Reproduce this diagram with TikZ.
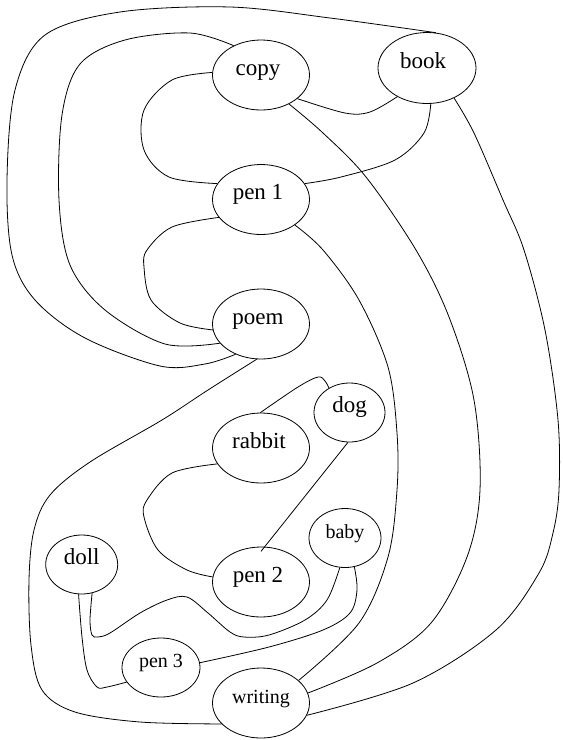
\documentclass[tikz,border=0pt]{standalone}
\usepackage{fontspec}
\setmainfont{Liberation Serif}
\usetikzlibrary{shapes.geometric}
\begin{document}
\begin{tikzpicture}[x=1pt,y=-1pt,
  vtx/.style={draw, ellipse, inner sep=0pt, line width=0.8pt,
    minimum width=97pt, minimum height=70pt,
    font=\fontsize{23}{23}\selectfont, text height=0pt, text depth=0pt},
  smallell/.style={minimum width=72pt, minimum height=59pt},
  smallfont/.style={font=\fontsize{20}{20}\selectfont},
  edge/.style={line width=0.8pt},
  sm/.style={smooth, tension=0.55}]
\useasboundingbox (0,0) rectangle (563,740);

\node[vtx] (copy) at (261,75) {copy\kern6pt};
\node[vtx, minimum width=98pt, minimum height=71pt] (book) at (427,68) {book\kern8pt};
\node[vtx] (pen1) at (261,199.5) {pen 1\kern6pt};
\node[vtx] (poem) at (261,324) {poem\kern6pt};
\node[vtx, minimum width=71pt, minimum height=59pt] (dog) at (349.5,412.5) {dog};
\node[vtx] (rabbit) at (261,448) {rabbit\kern4pt};
\node[vtx, smallell, smallfont] (baby) at (345,538) {baby};
\node[vtx, smallell] (doll) at (81.7,564.5) {doll};
\node[vtx] (pen2) at (261,582) {pen 2\kern6pt};
\node[vtx, minimum width=78pt, minimum height=59pt, smallfont] (pen3) at (161,667.5) {pen 3};
\node[vtx, smallfont] (writing) at (261,703) {writing};

% book - poem (outer loop)
\draw[edge] plot[sm] coordinates {(book.76) (330,18) (230,7) (120,12) (45,35) (15,90) (7,180) (12,255) (35,300) (85,338) (160,366) (205,364) (poem.230)};
% copy - poem
\draw[edge] plot[sm] coordinates {(copy.133) (190,33) (125,40) (80,64) (62,115) (59,200) (70,265) (105,310) (165,344) (poem.205)};
% copy - pen1
\draw[edge] plot[sm] coordinates {(copy.177) (172,80) (144,110) (144,150) (169,177) (pen1.160)};
% copy - book
\draw[edge] plot[sm] coordinates {(copy.-33) (345,113) (370,112) (book.224)};
% book - pen1
\draw[edge] plot[sm] coordinates {(book.-84) (424,133) (395,160) (341,177) (pen1.20)};
% copy - writing
\draw[edge] plot[sm] coordinates {(copy.-46) (323,133) (366,177) (416,250) (449,317) (474,400) (480,490) (467,557) (431,623) (377,663) (writing.12)};
% book - writing
\draw[edge] plot[sm] coordinates {(book.-48) (474,133) (503,200) (524,250) (545,330) (558,420) (559,490) (553,533) (539,573) (496,630) (413,683) (writing.-15)};
% pen1 - writing
\draw[edge] plot[sm] coordinates {(pen1.-37) (323,250) (359,300) (388,367) (397,433) (397,490) (388,557) (359,623) (writing.31)};
% pen1 - poem
\draw[edge] plot[sm] coordinates {(pen1.203) (172,227) (147,250) (144,267) (151,300) (180,323) (poem.187)};
% poem - writing
\draw[edge] plot[sm] coordinates {(poem.263) (208,390) (162,420) (90,462) (50,495) (34,530) (29,580) (31,645) (42,690) (75,712) (140,722) (writing.208)};
% rabbit - dog
\draw[edge] plot[sm] coordinates {(rabbit.91) (298,387) (318,377) (325,381) (dog.130)};
% dog - pen2
\draw[edge, shorten >=-6pt] (dog.-93) -- (pen2.84);
% rabbit - pen2
\draw[edge] plot[sm] coordinates {(rabbit.200) (172,473) (147,500) (144,517) (158,550) (187,570) (pen2.174)};
% doll - baby
\draw[edge] plot[sm] coordinates {(doll.-70) (90,620) (92,635) (98,637) (110,633) (140,613) (167,600) (187,597) (208,613) (230,632) (244,637) (269,635) (305,620) (327,600) (baby.-100)};
% doll - pen3
\draw[edge] plot[sm] coordinates {(doll.-96) (82,637) (87,670) (97,687) (107,687) (pen3.203)};
% pen3 - baby
\draw[edge] plot[sm] coordinates {(pen3.7) (269,647) (323,630) (350,613) (357,590) (baby.-72)};
\end{tikzpicture}
\end{document}
